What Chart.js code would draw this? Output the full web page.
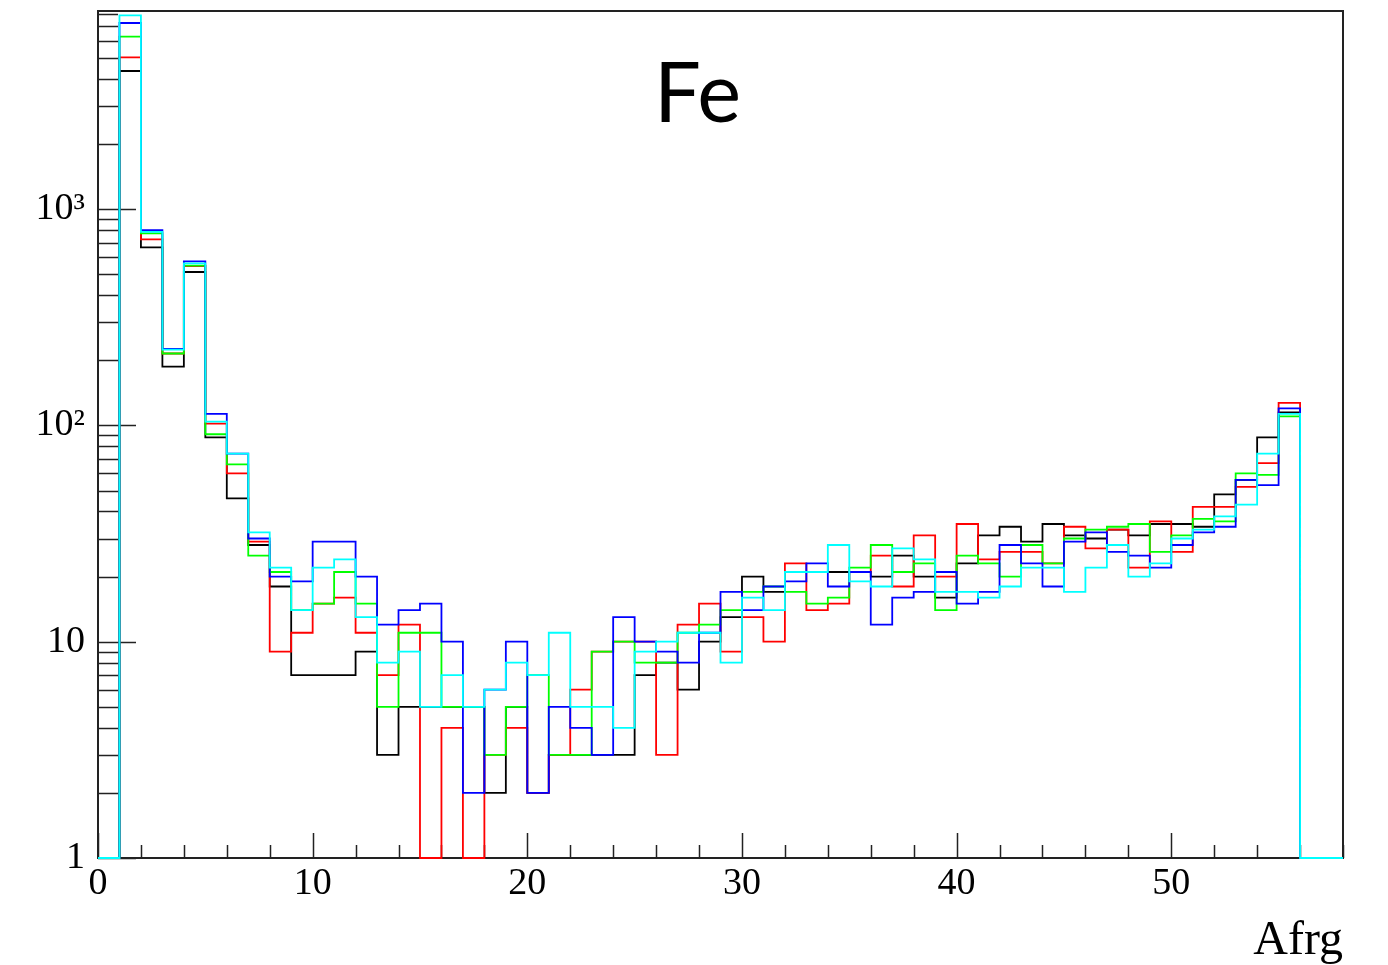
<!DOCTYPE html>
<html>
<head>
<meta charset="utf-8">
<title>Fe - Afrg</title>
<script src="https://cdn.jsdelivr.net/npm/chart.js@4.4.1/dist/chart.umd.min.js"></script>
<style>
  html, body { margin: 0; padding: 0; background: #fff; }
  #chart { display: block; }
</style>
</head>
<body>
<canvas id="chart" width="1388" height="965"></canvas>
<script>
// bin contents, bins [A, A+1) for A = 1 .. 55
const FIRST_BIN = 1;
const black = [4350, 665, 187, 512, 88, 46, 28, 18, 7, 7,
  7, 9, 3, 5, 5, 5, 5, 2, 5, 2,
  3, 3, 3, 3, 7, 8, 6, 10, 13, 20,
  17, 21, 21, 21, 21, 20, 25, 20, 16, 23,
  31, 34, 29, 35, 31, 30, 33, 31, 35, 35,
  34, 48, 56, 88, 115];
const red = [5030, 724, 215, 545, 102, 60, 29, 9, 11, 15,
  16, 11, 7, 12, 0, 4, 0, 3, 4, 2,
  3, 6, 9, 10, 10, 3, 12, 15, 9, 13,
  10, 23, 14, 15, 21, 25, 18, 31, 20, 35,
  24, 26, 26, 23, 34, 27, 33, 22, 36, 26,
  42, 42, 52, 67, 127];
const green = [6270, 772, 215, 548, 91, 66, 25, 21, 14, 15,
  21, 15, 5, 11, 11, 5, 5, 3, 5, 7,
  3, 3, 9, 10, 8, 8, 11, 12, 14, 17,
  18, 17, 15, 16, 22, 28, 21, 23, 14, 25,
  23, 20, 28, 23, 30, 33, 34, 35, 26, 31,
  37, 36, 60, 59, 110];
const blue = [7250, 800, 226, 573, 113, 74, 30, 20, 19, 29,
  29, 20, 12, 14, 15, 10, 2, 6, 10, 2,
  5, 4, 3, 13, 10, 9, 8, 11, 17, 14,
  18, 19, 23, 18, 21, 12, 16, 17, 21, 15,
  17, 28, 23, 18, 29, 32, 26, 25, 22, 28,
  32, 34, 56, 53, 120];
const cyan = [7870, 785, 224, 561, 104, 74, 32, 22, 14, 22,
  24, 13, 8, 9, 5, 7, 5, 6, 8, 7,
  11, 5, 5, 4, 9, 10, 11, 11, 8, 16,
  14, 21, 21, 28, 19, 18, 27, 24, 17, 17,
  16, 18, 22, 22, 17, 22, 28, 20, 23, 30,
  33, 38, 43, 74, 113];

const xTicks = [0, 10, 20, 30, 40, 50];
const yTicks = [1, 10, 100, 1000];
const yTickLabels = ["1", "10", "10\u00b2", "10\u00b3"];
const X_MAX = 58;
const Y_MIN = 1;
const Y_MAX = 8240;
const SERIF = "'Liberation Serif', 'DejaVu Serif', serif";

// outline of a histogram: empty bins sit on the bottom of the log axis
function histPoints(values) {
  const pts = [{ x: 0, y: Y_MIN }];
  values.forEach((v, i) => pts.push({ x: FIRST_BIN + i, y: Math.max(v, Y_MIN) }));
  pts.push({ x: FIRST_BIN + values.length, y: Y_MIN });
  pts.push({ x: X_MAX, y: Y_MIN });
  return pts;
}

function hist(label, values, color, order) {
  return {
    label,
    data: histPoints(values),
    borderColor: color,
    borderWidth: 1.8,
    stepped: "before",
    pointRadius: 0,
    fill: false,
    clip: false,
    order,
  };
}

// ROOT style frame with ticks pointing inwards
const frameTicks = {
  id: "frameTicks",
  beforeDatasetsDraw(chart) {
    const { ctx, chartArea: a, scales: { x, y } } = chart;
    ctx.save();
    ctx.strokeStyle = "#222";
    ctx.lineWidth = 1.5;
    ctx.beginPath();
    for (let d = 1; d <= Y_MAX; d *= 10) {
      for (let m = 1; m < 10; m++) {
        const v = m * d;
        if (v > Y_MAX) break;
        const py = Math.round(y.getPixelForValue(v)) + 0.5;
        ctx.moveTo(a.left, py);
        ctx.lineTo(a.left + (m === 1 ? 38 : 20), py);
      }
    }
    for (let v = 0; v <= X_MAX; v += 2) {
      const px = Math.round(x.getPixelForValue(v)) + 0.5;
      ctx.moveTo(px, a.bottom);
      ctx.lineTo(px, a.bottom - (v % 10 === 0 ? 25 : 13));
    }
    ctx.stroke();
    ctx.lineWidth = 2;
    ctx.strokeRect(a.left, a.top, a.right - a.left, a.bottom - a.top);
    ctx.restore();
  },
  afterDraw(chart) {
    const { ctx, chartArea: a } = chart;
    ctx.save();
    ctx.fillStyle = "#000";
    ctx.font = "83px Lato, 'Open Sans', sans-serif";
    ctx.textAlign = "center";
    ctx.textBaseline = "alphabetic";
    ctx.fillText("Fe", (a.left + a.right) / 2 - 23, 122);
    ctx.restore();
  },
};

new Chart(document.getElementById("chart"), {
  type: "line",
  data: {
    datasets: [
      hist("black", black, "#000000", 4),
      hist("red", red, "#ff0000", 3),
      hist("green", green, "#00ff00", 2),
      hist("blue", blue, "#0000ff", 1),
      hist("cyan", cyan, "#00ffff", 0),
    ],
  },
  options: {
    responsive: false,
    animation: false,
    layout: { padding: { top: 11, right: 45, left: 0, bottom: 0 } },
    plugins: {
      legend: { display: false },
      tooltip: { enabled: false },
    },
    scales: {
      x: {
        type: "linear",
        min: 0,
        max: X_MAX,
        grid: { display: false, drawTicks: false },
        border: { display: false },
        afterBuildTicks: (axis) => { axis.ticks = xTicks.map(v => ({ value: v })); },
        afterFit: (axis) => {
          axis.height = 107;
          axis.paddingLeft = 0;
          axis.paddingRight = 0;
        },
        ticks: {
          autoSkip: false,
          maxRotation: 0,
          padding: 3,
          color: "#000",
          font: { family: SERIF, size: 38 },
          callback: (v) => String(v),
        },
        title: {
          display: true,
          text: "Afrg",
          align: "end",
          color: "#000",
          padding: { top: 0, bottom: -5 },
          font: { family: SERIF, size: 48 },
        },
      },
      y: {
        type: "logarithmic",
        min: Y_MIN,
        max: Y_MAX,
        grid: { display: false, drawTicks: false },
        border: { display: false },
        afterBuildTicks: (axis) => { axis.ticks = yTicks.map(v => ({ value: v })); },
        afterFit: (axis) => {
          axis.width = 98;
          axis.paddingTop = 0;
          axis.paddingBottom = 0;
        },
        ticks: {
          autoSkip: false,
          padding: 13,
          color: "#000",
          font: { family: SERIF, size: 38 },
          callback: (v) => yTickLabels[yTicks.indexOf(v)] ?? "",
        },
      },
    },
  },
  plugins: [frameTicks],
});
</script>
</body>
</html>
